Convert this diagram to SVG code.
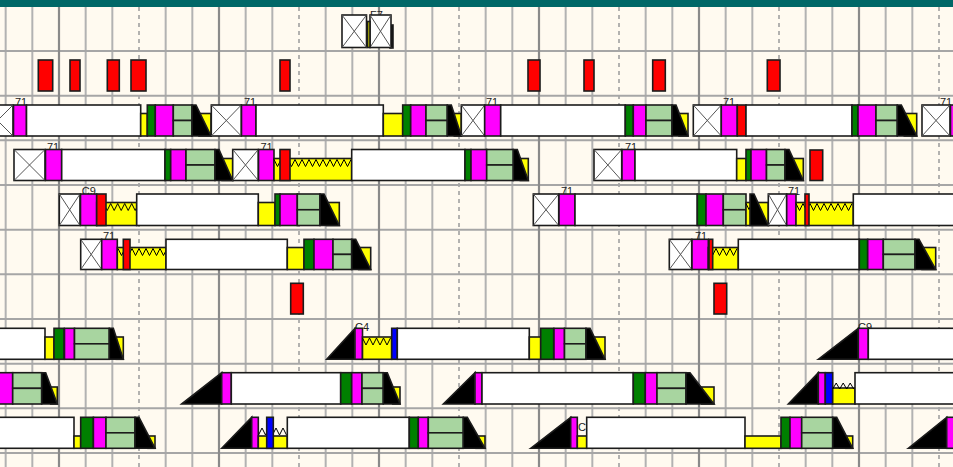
<svg xmlns="http://www.w3.org/2000/svg" width="953" height="467" viewBox="0 0 953 467">
<style>
.w{fill:#fff}.m{fill:#f0f}.g{fill:#008000}.l{fill:#a8d5a0}.y{fill:#ff0}.r{fill:#f00}.b{fill:#00f}.k{fill:#000}
.bar rect,.bar polygon,.reds rect,#f7 rect{stroke:#1c1c1c;stroke-width:1.6}
.x{stroke:#555;stroke-width:1;fill:none}
.z{stroke:#000;stroke-width:1;fill:none}
.t{font-family:"Liberation Sans",Arial,sans-serif;font-size:11px;fill:#222}
.gn{stroke:#b2b2b2;stroke-width:2;fill:none}
.gm{stroke:#8a8a8a;stroke-width:2.2;fill:none}
.gd{stroke:#9a9a9a;stroke-width:1.5;stroke-dasharray:4 4;fill:none}
.gh{stroke:#a6a6a6;stroke-width:2;fill:none}
</style>
<rect x="0" y="0" width="953" height="467" fill="#fffaf0"/>
<g id="grid">
<path class="gn" d="M5.67,7V467M32.33,7V467M85.67,7V467M112.33,7V467M165.67,7V467M192.33,7V467M245.67,7V467M272.33,7V467M325.67,7V467M352.33,7V467M405.67,7V467M432.33,7V467M485.67,7V467M512.33,7V467M565.67,7V467M592.33,7V467M645.67,7V467M672.33,7V467M725.67,7V467M752.33,7V467M805.67,7V467M832.33,7V467M885.67,7V467M912.33,7V467"/>
<path class="gd" d="M139,7V467M299,7V467M459,7V467M619,7V467M779,7V467M939,7V467"/>
<path class="gh" d="M0,51H953M0,95.7H953M0,140.3H953M0,185H953M0,229.7H953M0,274.3H953M0,319H953M0,363.7H953M0,408.3H953M0,453H953"/>
<path class="gm" d="M59,7V467M219,7V467M379,7V467M539,7V467M699,7V467M859,7V467"/>
</g>
<rect x="0" y="0" width="953" height="7" fill="#006767"/>

<g id="f7">
<text class="t" x="370" y="18.5">F7</text>
<rect class="w" x="342" y="15" width="24.5" height="32.5"/><path class="x" d="M342,15L366.5,47.5M366.5,15L342,47.5"/>
<rect x="390" y="25" width="3" height="23" fill="#000" stroke="none"/>
<rect class="w" x="370" y="15" width="21" height="32.5"/><path class="x" d="M370,15L391,47.5M391,15L370,47.5"/>
<rect x="367.5" y="21.5" width="2.5" height="26" fill="#c8c800"/>
</g>

<g id="reds1" class="reds">
<rect class="r" x="38.3" y="60" width="14.4" height="31"/>
<rect class="r" x="70" y="60" width="10" height="31"/>
<rect class="r" x="107.3" y="60" width="12" height="31"/>
<rect class="r" x="131" y="60" width="15" height="31"/>
<rect class="r" x="280" y="60" width="10" height="31"/>
<rect class="r" x="528" y="60" width="12" height="31"/>
<rect class="r" x="584" y="60" width="10" height="31"/>
<rect class="r" x="652.7" y="60" width="12.6" height="31"/>
<rect class="r" x="767.3" y="60" width="12.7" height="31"/>
</g>

<g id="r2a" class="bar">
<rect class="w" x="-18" y="105" width="31" height="31"/><path class="x" d="M-18,105L13,136M13,105L-18,136"/>
<text class="t" x="15" y="106">71</text>
<rect class="m" x="13.5" y="105" width="13" height="31"/>
<rect class="w" x="26.5" y="105" width="114.2" height="31"/>
<rect class="y" x="140.7" y="113.5" width="6.6" height="22.5"/>
<rect class="g" x="147.3" y="105" width="8" height="31"/>
<rect class="m" x="155.3" y="105" width="18" height="31"/>
<rect class="l" x="173.3" y="105" width="18.7" height="15.5"/><rect class="l" x="173.3" y="120.5" width="18.7" height="15.5"/>
<rect class="y" x="199" y="113.5" width="12" height="22.5"/><polygon class="k" points="192,105 196,105 211,136 192,136"/>
</g>
<g id="r2b" class="bar">
<rect class="w" x="211.3" y="105" width="30" height="31"/><path class="x" d="M211.3,105L241.3,136M241.3,105L211.3,136"/>
<text class="t" x="244" y="106">71</text>
<rect class="m" x="241.5" y="105" width="14.5" height="31"/>
<rect class="w" x="256" y="105" width="127.3" height="31"/>
<rect class="y" x="383.3" y="113.5" width="19.4" height="22.5"/>
<rect class="g" x="402.7" y="105" width="8" height="31"/>
<rect class="m" x="410.7" y="105" width="15.3" height="31"/>
<rect class="l" x="426" y="105" width="21.3" height="15.5"/><rect class="l" x="426" y="120.5" width="21.3" height="15.5"/>
<rect class="y" x="454.3" y="113.5" width="7" height="22.5"/><polygon class="k" points="447.3,105 451.3,105 461.3,136 447.3,136"/>
</g>
<g id="r2c" class="bar">
<rect class="w" x="461.3" y="105" width="23.4" height="31"/><path class="x" d="M461.3,105L484.7,136M484.7,105L461.3,136"/>
<text class="t" x="486" y="106">71</text>
<rect class="m" x="484.7" y="105" width="16" height="31"/>
<rect class="w" x="500.7" y="105" width="124.6" height="31"/>
<rect class="g" x="625.3" y="105" width="8" height="31"/>
<rect class="m" x="633.3" y="105" width="12.7" height="31"/>
<rect class="l" x="646" y="105" width="26" height="15.5"/><rect class="l" x="646" y="120.5" width="26" height="15.5"/>
<rect class="y" x="679" y="113.5" width="9" height="22.5"/><polygon class="k" points="672,105 676,105 688,136 672,136"/>
</g>
<g id="r2d" class="bar">
<rect class="w" x="693.3" y="105" width="28" height="31"/><path class="x" d="M693.3,105L721.3,136M721.3,105L693.3,136"/>
<text class="t" x="723" y="106">71</text>
<rect class="m" x="721.3" y="105" width="16" height="31"/>
<rect class="r" x="737.3" y="105" width="8.7" height="31"/>
<rect class="w" x="746" y="105" width="106" height="31"/>
<rect class="g" x="852" y="105" width="6" height="31"/>
<rect class="m" x="858" y="105" width="18" height="31"/>
<rect class="l" x="876" y="105" width="21.3" height="15.5"/><rect class="l" x="876" y="120.5" width="21.3" height="15.5"/>
<rect class="y" x="904.3" y="113.5" width="12.4" height="22.5"/><polygon class="k" points="897.3,105 901.3,105 916.7,136 897.3,136"/>
</g>
<g id="r2e" class="bar">
<text class="t" x="940" y="106">71</text>
<rect class="w" x="922" y="105" width="28" height="31"/><path class="x" d="M922,105L950,136M950,105L922,136"/>
<rect class="m" x="950.5" y="105" width="10" height="31"/>
</g>

<g id="r3a" class="bar">
<rect class="w" x="14" y="149.5" width="31" height="31"/><path class="x" d="M14,149.5L45,180.5M45,149.5L14,180.5"/>
<text class="t" x="47" y="150.5">71</text>
<rect class="m" x="45.5" y="149.5" width="16.2" height="31"/>
<rect class="w" x="61.7" y="149.5" width="103.3" height="31"/>
<rect class="g" x="165" y="149.5" width="5.7" height="31"/>
<rect class="m" x="170.7" y="149.5" width="15.3" height="31"/>
<rect class="l" x="186" y="149.5" width="29" height="15.5"/><rect class="l" x="186" y="165" width="29" height="15.5"/>
<rect class="y" x="222" y="158.5" width="10.7" height="22"/><polygon class="k" points="215,149.5 219,149.5 232.7,180.5 215,180.5"/>
</g>
<g id="r3b" class="bar">
<rect class="w" x="232.7" y="149.5" width="25.6" height="31"/><path class="x" d="M232.7,149.5L258.3,180.5M258.3,149.5L232.7,180.5"/>
<text class="t" x="260.5" y="150.5">71</text>
<rect class="m" x="258.5" y="149.5" width="15.5" height="31"/>
<rect class="y" x="274" y="158.5" width="77.7" height="22"/>
<path class="z" d="M274,159.5l3.5,7 3.5,-7 3.5,7 3.5,-7 3.5,7 3.5,-7 3.5,7 3.5,-7 3.5,7 3.5,-7 3.5,7 3.5,-7 3.5,7 3.5,-7 3.5,7 3.5,-7 3.5,7 3.5,-7 3.5,7 3.5,-7 3.5,7 3.5,-7"/>
<rect class="r" x="280" y="149.5" width="10" height="31"/>
<rect class="w" x="351.7" y="149.5" width="113.3" height="31"/>
<rect class="g" x="465" y="149.5" width="6" height="31"/>
<rect class="m" x="471" y="149.5" width="15.7" height="31"/>
<rect class="l" x="486.7" y="149.5" width="26.6" height="15.5"/><rect class="l" x="486.7" y="165" width="26.6" height="15.5"/>
<rect class="y" x="520.3" y="158.5" width="8" height="22"/><polygon class="k" points="513.3,149.5 517.3,149.5 528.3,180.5 513.3,180.5"/>
</g>
<g id="r3c" class="bar">
<rect class="w" x="594" y="149.5" width="27.7" height="31"/><path class="x" d="M594,149.5L621.7,180.5M621.7,149.5L594,180.5"/>
<text class="t" x="625" y="150.5">71</text>
<rect class="m" x="622" y="149.5" width="13" height="31"/>
<rect class="w" x="635" y="149.5" width="101.7" height="31"/>
<rect class="y" x="736.7" y="158.5" width="9.3" height="22"/>
<rect class="g" x="746" y="149.5" width="5" height="31"/>
<rect class="m" x="751" y="149.5" width="15.5" height="31"/>
<rect class="l" x="766.5" y="149.5" width="18.5" height="15.5"/><rect class="l" x="766.5" y="165" width="18.5" height="15.5"/>
<rect class="y" x="792" y="158.5" width="11.3" height="22"/><polygon class="k" points="785,149.5 789,149.5 803.3,180.5 785,180.5"/>
</g>
<g id="r3red" class="reds"><rect class="r" x="810" y="150" width="12.7" height="30.5"/></g>

<g id="r4a" class="bar">
<rect class="w" x="59.3" y="194" width="20.7" height="31.5"/><path class="x" d="M59.3,194L80,225.5M80,194L59.3,225.5"/>
<text class="t" x="81.7" y="195">C9</text>
<rect class="m" x="80.5" y="194" width="16.2" height="31.5"/>
<rect class="y" x="96.7" y="202.5" width="40" height="23"/>
<path class="z" d="M96.7,203.5l3.5,7 3.5,-7 3.5,7 3.5,-7 3.5,7 3.5,-7 3.5,7 3.5,-7 3.5,7 3.5,-7 3.5,7 3.5,-7 3.5,7 3.5,-7 3.5,7 3.5,-7 3.5,7 3.5,-7 3.5,7 3.5,-7 3.5,7 3.5,-7"/>
<rect class="r" x="96.7" y="194" width="9.3" height="31.5"/>
<rect class="w" x="136.7" y="194" width="121.6" height="31.5"/>
<rect class="y" x="258.3" y="202.5" width="16.7" height="23"/>
<rect class="g" x="275" y="194" width="5" height="31.5"/>
<rect class="m" x="280" y="194" width="17.3" height="31.5"/>
<rect class="l" x="297.3" y="194" width="22.7" height="15.75"/><rect class="l" x="297.3" y="209.75" width="22.7" height="15.75"/>
<rect class="y" x="327" y="202.5" width="12.3" height="23"/><polygon class="k" points="320,194 324,194 339.3,225.5 320,225.5"/>
</g>
<g id="r4b" class="bar">
<rect class="w" x="533.3" y="194" width="25.4" height="31.5"/><path class="x" d="M533.3,194L558.7,225.5M558.7,194L533.3,225.5"/>
<text class="t" x="561" y="195">71</text>
<rect class="m" x="559" y="194" width="16" height="31.5"/>
<rect class="w" x="575" y="194" width="122.3" height="31.5"/>
<rect class="g" x="697.3" y="194" width="8.7" height="31.5"/>
<rect class="m" x="706" y="194" width="17.3" height="31.5"/>
<rect class="l" x="723.3" y="194" width="22.7" height="15.75"/><rect class="l" x="723.3" y="209.75" width="22.7" height="15.75"/>
<rect class="y" x="746" y="202.5" width="22.3" height="23"/>
<path class="z" d="M746,203.5l3,6 3,-6"/>
<polygon class="k" points="750,194 754,194 768.3,225.5 750,225.5"/>
</g>
<g id="r4c" class="bar">
<rect class="w" x="768.3" y="194" width="18.4" height="31.5"/><path class="x" d="M768.3,194L786.7,225.5M786.7,194L768.3,225.5"/>
<text class="t" x="788" y="195">71</text>
<rect class="m" x="786.7" y="194" width="9.3" height="31.5"/>
<rect class="y" x="796" y="202.5" width="57.3" height="23"/>
<path class="z" d="M796,203.5l3.5,7 3.5,-7 3.5,7 3.5,-7 3.5,7 3.5,-7 3.5,7 3.5,-7 3.5,7 3.5,-7 3.5,7 3.5,-7 3.5,7 3.5,-7 3.5,7 3.5,-7"/>
<rect class="r" x="805" y="194" width="4" height="31.5"/>
<rect class="w" x="853.3" y="194" width="110" height="31.5"/>
</g>

<g id="r5a" class="bar">
<rect class="w" x="80.7" y="239.3" width="21" height="30.2"/><path class="x" d="M80.7,239.3L101.7,269.5M101.7,239.3L80.7,269.5"/>
<text class="t" x="103" y="240.3">71</text>
<rect class="m" x="101.7" y="239.3" width="15.6" height="30.2"/>
<rect class="y" x="117.3" y="247.5" width="48.7" height="22"/>
<path class="z" d="M118,248.5l3.5,7 3.5,-7 3.5,7 3.5,-7 3.5,7 3.5,-7 3.5,7 3.5,-7 3.5,7 3.5,-7 3.5,7 3.5,-7 3.5,7 3.5,-7"/>
<rect class="r" x="123.3" y="239.3" width="6.7" height="30.2"/>
<rect class="w" x="166" y="239.3" width="121.3" height="30.2"/>
<rect class="y" x="287.3" y="247.5" width="16.7" height="22"/>
<rect class="g" x="304" y="239.3" width="10" height="30.2"/>
<rect class="m" x="314" y="239.3" width="19" height="30.2"/>
<rect class="l" x="333" y="239.3" width="18.7" height="15.1"/><rect class="l" x="333" y="254.4" width="18.7" height="15.1"/>
<rect class="y" x="358.7" y="247.5" width="12" height="22"/><polygon class="k" points="351.7,239.3 355.7,239.3 370.7,269.5 351.7,269.5"/>
</g>
<g id="r5b" class="bar">
<rect class="w" x="669.3" y="239.3" width="22.4" height="30.2"/><path class="x" d="M669.3,239.3L691.7,269.5M691.7,239.3L669.3,269.5"/>
<text class="t" x="695" y="240.3">71</text>
<rect class="m" x="692" y="239.3" width="16.3" height="30.2"/>
<rect class="y" x="708.3" y="247.5" width="30" height="22"/>
<path class="z" d="M709,248.5l3.5,7 3.5,-7 3.5,7 3.5,-7 3.5,7 3.5,-7 3.5,7 3.5,-7"/>
<rect class="r" x="709" y="239.3" width="3.7" height="30.2"/>
<rect class="w" x="738.3" y="239.3" width="121" height="30.2"/>
<rect class="g" x="859.3" y="239.3" width="8.4" height="30.2"/>
<rect class="m" x="867.7" y="239.3" width="15.6" height="30.2"/>
<rect class="l" x="883.3" y="239.3" width="31.7" height="15.1"/><rect class="l" x="883.3" y="254.4" width="31.7" height="15.1"/>
<rect class="y" x="922" y="247.5" width="13.7" height="22"/><polygon class="k" points="915,239.3 919,239.3 935.7,269.5 915,269.5"/>
</g>

<g id="reds6" class="reds">
<rect class="r" x="290.7" y="283.3" width="12.6" height="30.7"/>
<rect class="r" x="714" y="283.3" width="12.7" height="30.7"/>
</g>

<g id="r7a" class="bar">
<rect class="w" x="-5" y="328.3" width="50" height="31"/>
<rect class="y" x="45" y="337" width="9" height="22.3"/>
<rect class="g" x="54" y="328.3" width="10" height="31"/>
<rect class="m" x="64.5" y="328.3" width="10" height="31"/>
<rect class="l" x="74.5" y="328.3" width="34.8" height="15.5"/><rect class="l" x="74.5" y="343.8" width="34.8" height="15.5"/>
<rect class="y" x="116.3" y="337" width="7" height="22.3"/><polygon class="k" points="109.3,328.3 113.3,328.3 123.3,359.3 109.3,359.3"/>
</g>
<g id="r7b" class="bar">
<polygon class="k" points="326.7,359.3 355,328.3 355,359.3"/>
<text class="t" x="355" y="330.5">C4</text>
<rect class="m" x="355" y="328.3" width="7.5" height="31"/>
<rect class="y" x="362.5" y="337" width="29.2" height="22.3"/>
<path class="z" d="M362.5,338l3.5,7 3.5,-7 3.5,7 3.5,-7 3.5,7 3.5,-7 3.5,7 3.5,-7"/>
<rect class="b" x="391.7" y="328.3" width="5.6" height="31"/>
<rect class="w" x="397.3" y="328.3" width="132" height="31"/>
<rect class="y" x="529.3" y="337" width="11.4" height="22.3"/>
<rect class="g" x="540.7" y="328.3" width="13" height="31"/>
<rect class="m" x="554" y="328.3" width="10.5" height="31"/>
<rect class="l" x="564.5" y="328.3" width="21.5" height="15.5"/><rect class="l" x="564.5" y="343.8" width="21.5" height="15.5"/>
<rect class="y" x="593" y="337" width="12" height="22.3"/><polygon class="k" points="586,328.3 590,328.3 605,359.3 586,359.3"/>
</g>
<g id="r7c" class="bar">
<polygon class="k" points="818.3,359.3 858.3,328.3 858.3,359.3"/>
<text class="t" x="858" y="330.5">C9</text>
<rect class="m" x="858.3" y="328.3" width="10" height="31"/>
<rect class="w" x="868.3" y="328.3" width="100" height="31"/>
</g>

<g id="r8a" class="bar">
<rect class="m" x="-5" y="372.7" width="17.7" height="31.3"/>
<rect class="l" x="12.7" y="372.7" width="29" height="15.65"/><rect class="l" x="12.7" y="388.35" width="29" height="15.65"/>
<rect class="y" x="50.7" y="387" width="6.6" height="17"/><polygon class="k" points="41.7,372.7 45.7,372.7 57.3,404 41.7,404"/>
</g>
<g id="r8b" class="bar">
<polygon class="k" points="181.7,404 221.7,372.7 221.7,404"/>
<rect class="m" x="221.7" y="372.7" width="9.6" height="31.3"/>
<rect class="w" x="231.3" y="372.7" width="109.4" height="31.3"/>
<rect class="g" x="340.7" y="372.7" width="11" height="31.3"/>
<rect class="m" x="351.7" y="372.7" width="10.3" height="31.3"/>
<rect class="l" x="362" y="372.7" width="21.3" height="15.65"/><rect class="l" x="362" y="388.35" width="21.3" height="15.65"/>
<rect class="y" x="392.7" y="387" width="7.3" height="17"/><polygon class="k" points="383.3,372.7 387.3,372.7 400,404 383.3,404"/>
</g>
<g id="r8c" class="bar">
<polygon class="k" points="443.3,404 475,372.7 475,404"/>
<rect class="m" x="475" y="372.7" width="7" height="31.3"/>
<rect class="w" x="482" y="372.7" width="151.3" height="31.3"/>
<rect class="g" x="633.3" y="372.7" width="12" height="31.3"/>
<rect class="m" x="645.3" y="372.7" width="11.7" height="31.3"/>
<rect class="l" x="657" y="372.7" width="29" height="15.65"/><rect class="l" x="657" y="388.35" width="29" height="15.65"/>
<rect class="y" x="701.7" y="387" width="12.3" height="17"/><polygon class="k" points="686,372.7 690,372.7 714,404 686,404"/>
</g>
<g id="r8d" class="bar">
<polygon class="k" points="788.3,404 818.3,372.7 818.3,404"/>
<rect class="m" x="818.3" y="372.7" width="7" height="31.3"/>
<rect class="b" x="825.3" y="372.7" width="7.4" height="31.3"/>
<rect class="y" x="832.7" y="388" width="22.3" height="16"/>
<path class="z" d="M832.7,389l3.5,-6 3.5,6 3.5,-6 3.5,6 3.5,-6 3.5,6"/>
<rect class="w" x="855" y="372.7" width="110" height="31.3"/>
</g>

<g id="r9a" class="bar">
<rect class="w" x="-5" y="417.3" width="79" height="31"/>
<rect class="y" x="74" y="436" width="6.7" height="12.3"/>
<rect class="g" x="80.7" y="417.3" width="12.7" height="31"/>
<rect class="m" x="93.4" y="417.3" width="12.6" height="31"/>
<rect class="l" x="106" y="417.3" width="29" height="15.5"/><rect class="l" x="106" y="432.8" width="29" height="15.5"/>
<rect class="y" x="148" y="436" width="7" height="12.3"/><polygon class="k" points="135,417.3 139,417.3 155,448.3 135,448.3"/>
</g>
<g id="r9b" class="bar">
<polygon class="k" points="221.7,448.3 251.7,417.3 251.7,448.3"/>
<rect class="m" x="251.7" y="417.3" width="6.6" height="31"/>
<rect class="y" x="258.3" y="436" width="29" height="12.3"/>
<path class="z" d="M258.5,435l3.5,-7 3.5,7 3.5,-7 3.5,7 3.5,-7 3.5,7 3.5,-7 3.5,7"/>
<rect class="b" x="266.7" y="417.3" width="6.6" height="31"/>
<rect class="w" x="287.3" y="417.3" width="122" height="31"/>
<rect class="g" x="409.3" y="417.3" width="9" height="31"/>
<rect class="m" x="418.3" y="417.3" width="10" height="31"/>
<rect class="l" x="428.3" y="417.3" width="35" height="15.5"/><rect class="l" x="428.3" y="432.8" width="35" height="15.5"/>
<rect class="y" x="476" y="436" width="9" height="12.3"/><polygon class="k" points="463.3,417.3 467.3,417.3 485,448.3 463.3,448.3"/>
</g>
<g id="r9c" class="bar">
<polygon class="k" points="530.7,448.3 570.7,417.3 570.7,448.3"/>
<rect class="m" x="570.7" y="417.3" width="6.6" height="31"/>
<text class="t" x="578" y="431">C4</text>
<rect class="y" x="577.3" y="436" width="9.4" height="12.3"/>
<rect class="w" x="586.7" y="417.3" width="158.3" height="31"/>
<rect class="y" x="745" y="436" width="36" height="12.3"/>
<rect class="g" x="781" y="417.3" width="9" height="31"/>
<rect class="m" x="790" y="417.3" width="11.7" height="31"/>
<rect class="l" x="801.7" y="417.3" width="31" height="15.5"/><rect class="l" x="801.7" y="432.8" width="31" height="15.5"/>
<rect class="y" x="845.7" y="436" width="7" height="12.3"/><polygon class="k" points="832.7,417.3 836.7,417.3 852.7,448.3 832.7,448.3"/>
</g>
<g id="r9d" class="bar">
<polygon class="k" points="908.3,448.3 946.7,417.3 946.7,448.3"/>
<rect class="m" x="946.7" y="417.3" width="15" height="31"/>
</g>
<g id="connectors"></g>
</svg>
